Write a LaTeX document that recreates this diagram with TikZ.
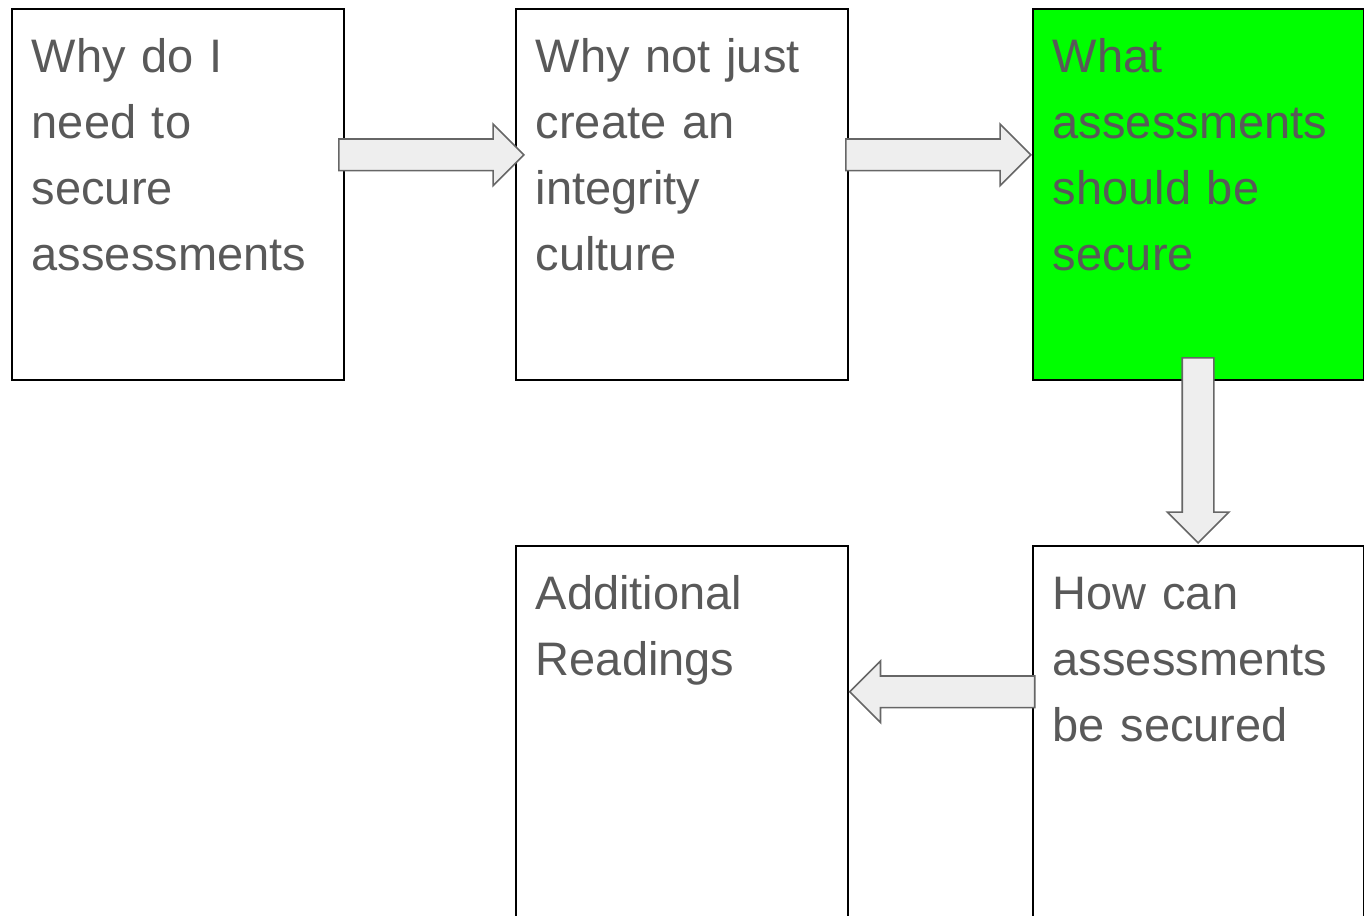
\documentclass[tikz,border=0pt]{standalone}
\usepackage{fontspec}
\setmainfont{Liberation Sans}
\usetikzlibrary{shapes.arrows,calc}
\definecolor{ink}{HTML}{595959}
\definecolor{shade}{HTML}{EEEEEE}
\definecolor{rim}{HTML}{666666}
\definecolor{hilite}{HTML}{00FF00}

\tikzset{
  card/.style={draw=black,line width=1.6pt,anchor=north west,text width=292pt,align=left,
    inner xsep=20pt,inner ysep=0pt,text height=64pt,text depth=307pt,
    font=\fontsize{47}{66}\selectfont,text=ink},
  edgecard/.style={card,text width=290.5pt},
  flow/.style={single arrow,fill=shade,draw=rim,line width=1.6pt,inner sep=15pt,anchor=tip,
    single arrow head extend=15pt,single arrow tip angle=90,minimum height=185pt}
}

\begin{document}
\begin{tikzpicture}[x=1pt,y=1pt]
  \useasboundingbox (0,0) rectangle (1364,-915);
  % top row
  \node[card] (why) at (11,-8) {Why do I\\need to\\secure\\assessments};
  \node[card] (culture) at (515,-8) {Why not just\\create an\\integrity\\culture};
  \node[edgecard,fill=hilite] (what) at (1032,-8) {What\\assessments\\should be\\secure};
  % bottom row
  \node[card] (readings) at (515,-545) {Additional\\Readings};
  \node[edgecard] (how) at (1032,-545) {How can\\assessments\\be secured};
  % arrows, placed by their tips
  \node[flow] (a1) at ($(culture.west)+(10,39.5)$) {};
  \node[flow] (a2) at ($(what.west)+(0,39.5)$) {};
  \node[flow,shape border rotate=270] (a3) at ($(how.north)+(0,1)$) {};
  \node[flow,shape border rotate=180] (a4) at ($(readings.east)+(0,39.5)$) {};
\end{tikzpicture}
\end{document}
